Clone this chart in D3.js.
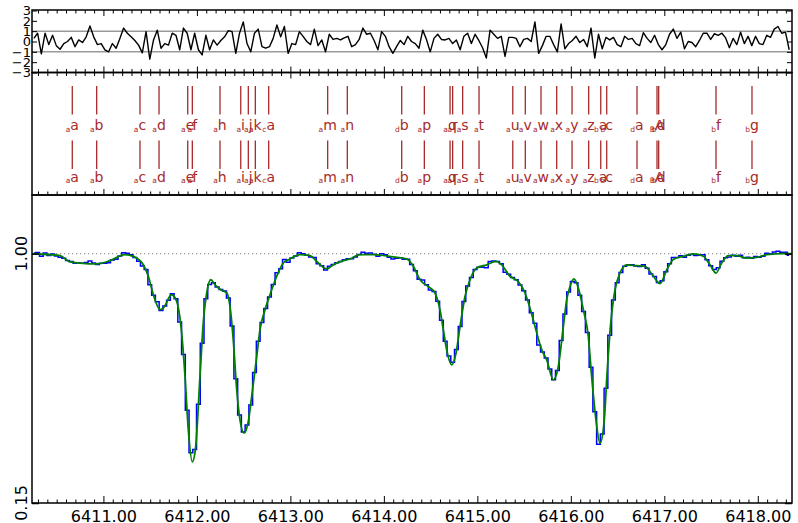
<!DOCTYPE html>
<html>
<head>
<meta charset="utf-8">
<script src="https://cdn.jsdelivr.net/npm/d3@7"></script>
<style>
  body { margin: 0; background: #fff; }
  svg { display: block; font-family: "DejaVu Sans", sans-serif; }
</style>
</head>
<body>
<svg id="chart" width="798" height="523"></svg>
<script>
// ---- spectrum data -------------------------------------------------------
// observed pixels on a uniform grid (bin centres)
const wave0 = 6410.256;
const waveStep = 0.04;
const fluxObs = [
  1.002,1.004,0.991,1.002,0.994,0.999,0.992,0.988,0.984,0.977,
  0.973,0.967,0.969,0.967,0.970,0.975,0.968,0.963,0.967,0.967,
  0.969,0.978,0.981,0.992,1.003,1.001,0.996,0.987,0.974,0.958,
  0.946,0.894,0.858,0.836,0.806,0.822,0.841,0.863,0.846,0.767,
  0.656,0.466,0.321,0.332,0.487,0.695,0.846,0.895,0.901,0.886,
  0.878,0.873,0.849,0.753,0.574,0.450,0.392,0.416,0.484,0.595,
  0.701,0.765,0.813,0.852,0.895,0.935,0.949,0.980,0.971,0.985,
  0.992,1.003,1.000,0.995,0.989,0.987,0.966,0.959,0.944,0.957,
  0.963,0.969,0.973,0.979,0.983,0.983,0.989,0.997,1.005,1.001,
  1.002,0.998,0.991,1.000,0.996,0.988,0.982,0.984,0.986,0.981,
  0.981,0.963,0.942,0.913,0.910,0.894,0.876,0.871,0.838,0.773,
  0.701,0.651,0.630,0.673,0.752,0.837,0.890,0.919,0.946,0.954,
  0.954,0.952,0.973,0.975,0.973,0.966,0.937,0.930,0.919,0.911,
  0.893,0.874,0.842,0.799,0.763,0.689,0.665,0.644,0.607,0.570,
  0.602,0.704,0.794,0.869,0.905,0.901,0.858,0.803,0.731,0.613,
  0.461,0.350,0.385,0.541,0.722,0.842,0.901,0.936,0.957,0.962,
  0.962,0.958,0.956,0.962,0.950,0.931,0.922,0.902,0.908,0.938,
  0.966,0.987,0.987,0.993,0.988,0.995,0.997,0.994,0.995,0.996,
  0.979,0.959,0.946,0.952,0.974,0.986,0.989,0.995,0.991,0.995,
  0.986,0.988,0.984,0.990,0.988,0.991,1.001,1.000,1.006,1.008,
  1.005,1.005,0.995
];

// normalised residuals, one per pixel
const residuals = [
  0.3,0.8,-1.2,0.8,-0.3,0.6,-0.4,-0.75,-0.2,0.0,
  0.4,-0.5,0.15,-0.1,0.45,1.5,0.45,-0.3,-0.2,-0.8,
  -1.0,-0.2,-0.65,0.3,1.3,0.8,0.45,0.1,-0.35,-1.1,
  0.95,-1.7,0.15,1.1,-0.65,-0.2,-0.35,0.8,0.6,-0.8,
  1.3,0.8,-0.8,0.8,-0.8,-1.3,0.6,-0.8,0.15,-0.35,
  0.1,0.45,1.05,0.95,-1.15,0.8,1.9,-0.2,-1.0,0.8,
  1.2,-0.5,-0.65,-0.5,0.3,1.6,0.45,1.45,-1.15,-0.2,
  -0.3,0.95,0.5,0.0,-0.3,1.2,-0.4,0.15,-1.0,0.7,
  0.2,0.3,0.15,0.35,0.5,-0.5,-0.3,0.2,1.3,0.7,
  0.8,0.1,-0.8,0.95,0.5,-0.5,-1.15,-0.5,0.1,-0.3,
  0.5,0.0,-0.2,-0.65,1.1,0.2,-1.0,0.3,0.7,0.2,
  0.15,0.3,-0.2,0.15,-0.8,0.5,0.8,-0.2,0.7,0.1,
  -0.6,-1.6,1.1,0.7,0.3,0.5,-1.45,0.4,0.4,0.3,
  -0.5,0.2,0.3,0.0,1.9,-1.15,-0.4,0.5,0.5,-0.3,
  -1.0,1.7,-0.7,-0.2,0.1,0.5,-0.1,0.2,-0.5,1.3,
  -1.6,0.7,-0.7,0.4,0.15,0.4,-0.3,-0.5,0.5,0.2,
  0.3,-0.2,-0.4,0.85,0.3,-0.1,0.6,-0.3,-0.8,-0.3,
  0.7,1.2,0.3,0.9,-0.7,0.0,-0.1,-0.5,0.1,0.8,
  0.8,0.2,0.75,0.6,0.8,0.35,-0.6,0.3,-0.3,0.9,
  -0.2,0.5,-0.4,0.5,-0.2,-0.3,0.6,0.4,1.2,1.45,
  0.8,0.9,-0.8
];

// fitted profile (finer sampling than the data)
const modelWave = [
  6410.250,6410.354,6410.536,6410.643,6410.749,6410.928,6411.070,6411.231,6411.320,6411.427,
  6411.480,6411.534,6411.605,6411.641,6411.730,6411.784,6411.837,6411.873,6411.908,6411.951,
  6411.987,6412.033,6412.068,6412.105,6412.148,6412.194,6412.265,6412.319,6412.354,6412.389,
  6412.426,6412.461,6412.504,6412.550,6412.586,6412.640,6412.675,6412.729,6412.782,6412.854,
  6412.924,6412.996,6413.103,6413.210,6413.299,6413.389,6413.459,6413.566,6413.638,6413.745,
  6413.887,6414.101,6414.244,6414.315,6414.387,6414.475,6414.547,6414.600,6414.636,6414.672,
  6414.726,6414.772,6414.815,6414.868,6414.922,6414.993,6415.100,6415.200,6415.261,6415.349,
  6415.438,6415.510,6415.563,6415.617,6415.689,6415.742,6415.813,6415.866,6415.920,6415.956,
  6415.991,6416.034,6416.080,6416.134,6416.187,6416.223,6416.269,6416.312,6416.355,6416.390,
  6416.427,6416.473,6416.526,6416.598,6416.705,6416.794,6416.883,6416.955,6417.026,6417.097,
  6417.204,6417.310,6417.417,6417.489,6417.553,6417.614,6417.685,6417.774,6417.881,6417.989,
  6418.096,6418.273,6418.363
];
const modelFlux = [
  1.000,0.998,0.993,0.972,0.968,0.965,0.976,0.997,0.991,0.962,
  0.923,0.860,0.809,0.815,0.860,0.837,0.729,0.581,0.400,0.290,
  0.342,0.581,0.763,0.866,0.911,0.894,0.875,0.866,0.820,0.706,
  0.536,0.433,0.388,0.428,0.513,0.650,0.741,0.809,0.860,0.923,
  0.968,0.982,0.997,0.993,0.968,0.948,0.962,0.976,0.982,0.997,
  0.997,0.989,0.982,0.957,0.911,0.888,0.866,0.809,0.741,0.672,
  0.621,0.661,0.752,0.854,0.911,0.951,0.962,0.974,0.962,0.923,
  0.905,0.866,0.815,0.752,0.672,0.638,0.570,0.615,0.752,0.843,
  0.888,0.914,0.883,0.809,0.718,0.581,0.433,0.354,0.422,0.604,
  0.763,0.877,0.934,0.962,0.959,0.957,0.923,0.898,0.945,0.980,
  0.991,0.999,0.991,0.962,0.934,0.968,0.993,0.993,0.985,0.987,
  0.997,1.000,1.000
];

// absorption component markers
const tickWave = [
  6410.667,6410.928,6411.391,6411.595,6411.902,6411.951,6412.247,6412.469,6412.550,6412.625,
  6412.768,6413.399,6413.609,6414.191,6414.433,6414.708,6414.736,6414.843,6415.018,6415.379,
  6415.513,6415.681,6415.849,6416.013,6416.191,6416.320,6416.384,6416.708,6416.922,6416.940,
  6417.553,6417.938
];
const tickIon = [
  "a","a","a","a","a","a","a","a","a","a",
  "c","a","a","d","a","a","a","a","a","a",
  "a","a","a","a","a","b","b","d","B","b",
  "b","b"
];
const tickId = [
  "a","b","c","d","e","f","h","i","j","k",
  "a","m","n","b","p","q","r","s","t","u",
  "v","w","x","y","z","a","c","a","A","d",
  "f","g"
];

// axis ticks
const xTickValues = [6411, 6412, 6413, 6414, 6415, 6416, 6417, 6418];
const xMinorValues = d3.range(64103, 64184).map(d => d / 10).filter(d => !xTickValues.includes(d));
const resTickValues = [-3, -2, -1, 0, 1, 2, 3];
const fluxTickValues = [0.15, 1.00];

// ---- layout ---------------------------------------------------------------
const W = 798, H = 523;
const left = 32, right = 792;
const resTop = 10, resBottom = 72.5, markBottom = 195, specBottom = 503;
const markColor = "#a62a2a";

const svg = d3.select("#chart");
svg.append("rect").attr("width", W).attr("height", H).attr("fill", "#fff");

const x = d3.scaleLinear().domain([6410.236, 6418.366]).range([left, right]);
const yR = d3.scaleLinear().domain([-3, 3]).range([resBottom, resTop + 0.5]);
const yF = d3.scaleLinear().domain([0.15, 1.2]).range([specBottom, markBottom]);

const pixWave = fluxObs.map((_, i) => wave0 + i * waveStep);

const defs = svg.append("defs");
defs.append("clipPath").attr("id", "clipRes").append("rect")
  .attr("x", left).attr("y", resTop).attr("width", right - left).attr("height", resBottom - resTop);
defs.append("clipPath").attr("id", "clipSpec").append("rect")
  .attr("x", left).attr("y", markBottom).attr("width", right - left).attr("height", specBottom - markBottom);

// ---- residual panel --------------------------------------------------------
const gRes = svg.append("g").attr("clip-path", "url(#clipRes)");
[-1, 1].forEach(v => {
  gRes.append("line")
    .attr("x1", left).attr("x2", right)
    .attr("y1", yR(v)).attr("y2", yR(v))
    .attr("stroke", "#9a9a9a").attr("stroke-width", 1.5);
});
gRes.append("path")
  .datum(residuals)
  .attr("fill", "none")
  .attr("stroke", "#000")
  .attr("stroke-width", 1.4)
  .attr("stroke-linejoin", "round")
  .attr("d", d3.line().x((d, i) => x(pixWave[i])).y(d => yR(d)));

// ---- component marker panel ----------------------------------------------
const rows = [
  { y0: 86, y1: 114.5, base: 130 },
  { y0: 140.5, y1: 169, base: 181.5 }
];
rows.forEach(r => {
  const g = svg.append("g");
  tickWave.forEach((w, i) => {
    g.append("line")
      .attr("x1", x(w)).attr("x2", x(w))
      .attr("y1", r.y0).attr("y2", r.y1)
      .attr("stroke", markColor).attr("stroke-width", 1.3);
    const t = g.append("text")
      .attr("x", x(w)).attr("y", r.base)
      .attr("text-anchor", "middle")
      .attr("fill", markColor);
    t.append("tspan").attr("font-size", 7.5).attr("dy", 1.8).text(tickIon[i]);
    t.append("tspan").attr("font-size", 14).attr("dy", -1.8).text(tickId[i]);
  });
});

// ---- spectrum panel ------------------------------------------------------
const gSpec = svg.append("g").attr("clip-path", "url(#clipSpec)");
gSpec.append("line")
  .attr("x1", left).attr("x2", right)
  .attr("y1", yF(1)).attr("y2", yF(1))
  .attr("stroke", "#999").attr("stroke-width", 1.2)
  .attr("stroke-dasharray", "1.2,2.8");
gSpec.append("path")
  .datum(fluxObs)
  .attr("fill", "none")
  .attr("stroke", "#0000ff")
  .attr("stroke-width", 1.5)
  .attr("d", d3.line().curve(d3.curveStep).x((d, i) => x(pixWave[i])).y(d => yF(d)));
gSpec.append("path")
  .datum(modelFlux)
  .attr("fill", "none")
  .attr("stroke", "#008000")
  .attr("stroke-width", 1.8)
  .attr("stroke-linejoin", "round")
  .attr("d", d3.line().curve(d3.curveMonotoneX).x((d, i) => x(modelWave[i])).y(d => yF(d)));

// ---- axes and ticks ------------------------------------------------------
function edgeTicks(yPos, orient, values, size) {
  const ax = (orient === "top" ? d3.axisTop(x) : d3.axisBottom(x))
    .tickValues(values).tickSize(-size).tickSizeOuter(0).tickFormat("");
  const g = svg.append("g").attr("transform", `translate(0,${yPos})`).call(ax);
  g.select(".domain").remove();
  g.selectAll("line").attr("stroke", "#000").attr("stroke-width", 1);
  return g;
}
// residual panel edges
edgeTicks(resTop, "top", xTickValues, 6);
edgeTicks(resTop, "top", xMinorValues, 3.5);
edgeTicks(resBottom, "bottom", xTickValues, 6);
edgeTicks(resBottom, "bottom", xMinorValues, 3.5);
// marker panel edges
edgeTicks(resBottom, "top", xTickValues, 6);
edgeTicks(resBottom, "top", xMinorValues, 3.5);
edgeTicks(markBottom, "bottom", xTickValues, 6);
edgeTicks(markBottom, "bottom", xMinorValues, 3.5);
// spectrum x axis
edgeTicks(specBottom, "bottom", xMinorValues, 3.5);
const xAxis = d3.axisBottom(x)
  .tickValues(xTickValues).tickSize(-7).tickSizeOuter(0).tickPadding(8)
  .tickFormat(d3.format(".2f"));
const gx = svg.append("g").attr("transform", `translate(0,${specBottom})`).call(xAxis);
gx.select(".domain").remove();
gx.selectAll("line").attr("stroke", "#000").attr("stroke-width", 1);
gx.selectAll("text").attr("font-size", 16).attr("fill", "#000").attr("font-family", "DejaVu Sans");

// residual y axis
const resAxis = d3.axisLeft(yR).tickValues(resTickValues).tickSize(-5).tickSizeOuter(0).tickPadding(1)
  .tickFormat(d3.format("d"));
const gry = svg.append("g").attr("transform", `translate(${left},0)`).call(resAxis);
gry.select(".domain").remove();
gry.selectAll("line").attr("stroke", "#000");
gry.selectAll("text").attr("font-size", 13).attr("fill", "#000").attr("font-family", "DejaVu Sans");
const gry2 = svg.append("g").attr("transform", `translate(${right},0)`)
  .call(d3.axisRight(yR).tickValues(resTickValues).tickSize(-5).tickSizeOuter(0).tickFormat(""));
gry2.select(".domain").remove();
gry2.selectAll("line").attr("stroke", "#000");

// flux y axis
const gfy = svg.append("g").attr("transform", `translate(${left},0)`)
  .call(d3.axisLeft(yF).tickValues(fluxTickValues).tickSize(-7).tickSizeOuter(0).tickFormat(""));
gfy.select(".domain").remove();
gfy.selectAll("line").attr("stroke", "#000").attr("stroke-width", 1.5);
const gfy2 = svg.append("g").attr("transform", `translate(${right},0)`)
  .call(d3.axisRight(yF).tickValues(fluxTickValues).tickSize(-7).tickSizeOuter(0).tickFormat(""));
gfy2.select(".domain").remove();
gfy2.selectAll("line").attr("stroke", "#000").attr("stroke-width", 1.5);
fluxTickValues.forEach(v => {
  svg.append("text")
    .attr("transform", `translate(27,${yF(v)}) rotate(-90)`)
    .attr("text-anchor", "middle")
    .attr("font-size", 16)
    .attr("fill", "#000")
    .text(d3.format(".2f")(v));
});

// panel frames
[[resTop, resBottom], [resBottom, markBottom], [markBottom, specBottom]].forEach(([t, b]) => {
  svg.append("rect")
    .attr("x", left).attr("y", t)
    .attr("width", right - left).attr("height", b - t)
    .attr("fill", "none").attr("stroke", "#000").attr("stroke-width", 1.5);
});
</script>
</body>
</html>
